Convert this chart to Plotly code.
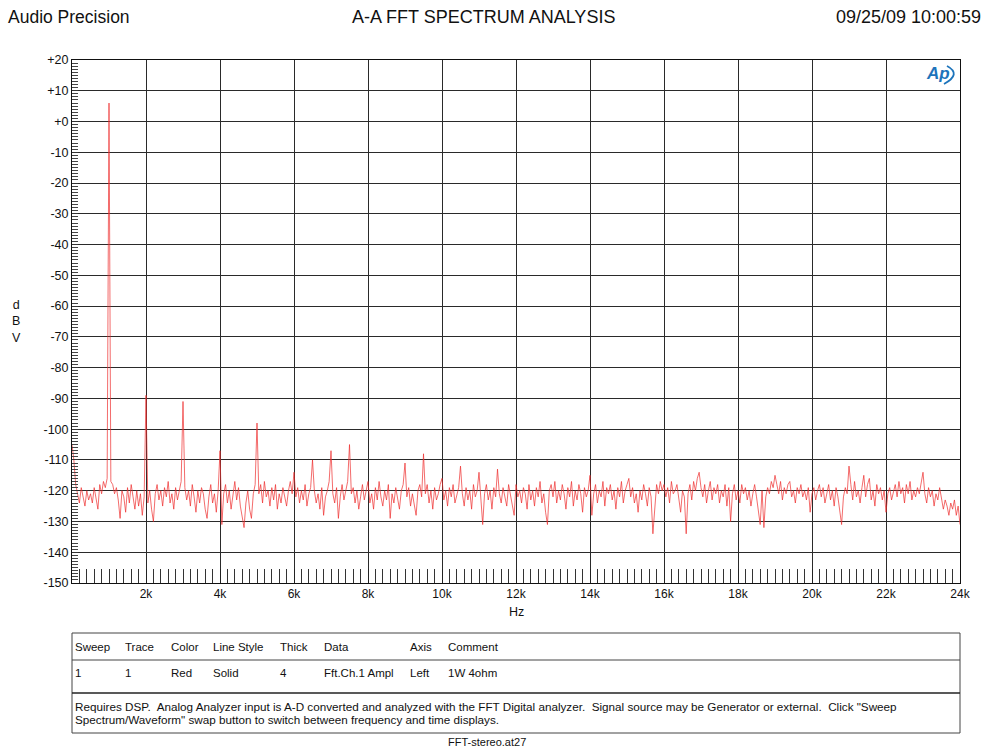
import plotly.graph_objects as go

# ---------------- data ----------------
BIN_HZ = 50  # FFT display bin spacing
level_dbv = [
    # 0 - 950 Hz
    -105, -110, -118, -121, -124, -119, -122, -125, -120, -123, -121, -124, -119, -122, -126, -118, -121, -117, -119, -116,
    # 1k
    6, -117, -118, -121, -119, -123, -129, -120, -122, -127, -119, -124, -118, -122, -126, -120, -125, -121, -128, -122,
    # 2k
    -89, -124, -120, -126, -130, -121, -118, -123, -120, -125, -119, -122, -117, -124, -121, -126, -119, -123, -120, -117,
    # 3k
    -91, -119, -123, -120, -125, -118, -122, -127, -120, -124, -119, -121, -126, -129, -122, -118, -124, -121, -127, -120,
    # 4k
    -107, -131, -121, -118, -124, -120, -126, -122, -117, -123, -119, -125, -128, -132, -124, -120, -126, -129, -121, -118,
    # 5k
    -98, -121, -118, -124, -117, -122, -120, -125, -119, -123, -118, -126, -121, -124, -119, -122, -125, -120, -117, -121,
    # 6k
    -114, -122, -119, -124, -120, -123, -118, -125, -121, -119, -110, -120, -124, -121, -126, -119, -128, -122, -120, -117,
    # 7k
    -107, -121, -124, -119, -129, -122, -118, -123, -120, -117, -105, -121, -119, -124, -120, -126, -122, -118, -123, -120,
    # 8k
    -117, -124, -121, -126, -119, -123, -117, -122, -125, -120, -123, -118, -129, -121, -124, -119, -122, -126, -120, -118,
    # 9k
    -111, -122, -119, -125, -121, -124, -128, -120, -118, -122, -108, -121, -118, -124, -120, -126, -119, -123, -121, -118,
    # 10k
    -116, -123, -120, -125, -119, -122, -118, -124, -121, -119, -112, -121, -125, -119, -123, -120, -126, -118, -122, -120,
    # 11k
    -114, -124, -131, -121, -118, -123, -120, -126, -119, -122, -113, -121, -124, -119, -122, -125, -118, -121, -124, -128,
    # 12k
    -118, -122, -120, -124, -119, -121, -126, -118, -123, -120, -125, -119, -122, -117, -124, -121, -127, -131, -120, -118,
    # 13k
    -122, -117, -124, -120, -123, -118, -121, -126, -119, -122, -117, -125, -120, -123, -118, -121, -127, -119, -122, -120,
    # 14k
    -115, -128, -121, -118, -124, -120, -122, -117, -125, -119, -121, -118, -123, -120, -126, -119, -122, -117, -124, -120,
    # 15k
    -118, -116, -122, -119, -124, -121, -127, -120, -123, -118, -121, -125, -119, -122, -134, -124, -118, -121, -117, -120,
    # 16k
    -118, -122, -119, -124, -117, -121, -120, -118, -123, -127, -120, -122, -134, -121, -118, -123, -117, -120, -116, -114,
    # 17k
    -119, -122, -118, -124, -120, -117, -123, -119, -121, -118, -124, -120, -122, -118, -125, -119, -130, -121, -118, -123,
    # 18k
    -120, -124, -118, -121, -119, -123, -120, -125, -121, -118, -122, -126, -131, -120, -132, -122, -119, -121, -117, -119,
    # 19k
    -115, -118, -121, -117, -123, -119, -121, -118, -117, -122, -120, -124, -119, -121, -118, -122, -120, -123, -119, -127,
    # 20k
    -121, -119, -123, -120, -118, -122, -119, -124, -121, -118, -123, -120, -125, -119, -122, -126, -131, -122, -119, -121,
    # 21k
    -112, -118, -123, -117, -122, -120, -124, -119, -115, -122, -118, -116, -123, -120, -125, -118, -121, -119, -123, -120,
    # 22k
    -127, -121, -119, -123, -120, -118, -122, -117, -121, -119, -124, -118, -121, -117, -123, -120, -122, -119, -121, -118,
    # 23k
    -114, -121, -124, -119, -122, -120, -125, -121, -123, -119, -122, -126, -123, -125, -128, -124, -126, -123, -128, -125,
    # 24k
    -131,
]
freq_hz = [i * BIN_HZ for i in range(len(level_dbv))]

x_tick_hz = [2000, 4000, 6000, 8000, 10000, 12000, 14000, 16000, 18000, 20000, 22000, 24000]
x_tick_text = ["2k", "4k", "6k", "8k", "10k", "12k", "14k", "16k", "18k", "20k", "22k", "24k"]
y_tick_db = [20, 10, 0, -10, -20, -30, -40, -50, -60, -70, -80, -90, -100, -110, -120, -130, -140, -150]
y_tick_text = ["+20", "+10", "+0", "-10", "-20", "-30", "-40", "-50", "-60", "-70", "-80", "-90",
               "-100", "-110", "-120", "-130", "-140", "-150"]

table_header = ["Sweep", "Trace", "Color", "Line Style", "Thick", "Data", "Axis", "Comment"]
table_row = ["1", "1", "Red", "Solid", "4", "Fft.Ch.1 Ampl", "Left", "1W 4ohm"]
note_lines = [
    "Requires DSP.  Analog Analyzer input is A-D converted and analyzed with the FFT Digital analyzer.  Signal source may be Generator or external.  Click \"Sweep",
    "Spectrum/Waveform\" swap button to switch between frequency and time displays.",
]

# ---------------- layout helpers ----------------
W, H = 982, 749
L, R, T, B = 72, 960, 60, 583
FONT = "Liberation Sans, Arial, Helvetica, sans-serif"


def px(xp):
    return (xp - L) / (R - L)


def py(yp):
    return (B - yp) / (B - T)


fig = go.Figure()
fig.add_trace(go.Scatter(
    x=freq_hz, y=level_dbv, mode="lines",
    line=dict(color="rgba(238,45,45,0.78)", width=0.9),
    hoverinfo="skip", showlegend=False,
))

grid_col = "#2a2a2a"
fig.update_layout(
    width=W, height=H,
    margin=dict(l=L, r=W - R, t=T, b=H - B),
    paper_bgcolor="white", plot_bgcolor="white",
    font=dict(family=FONT, color="#111", size=12),
    showlegend=False,
    xaxis=dict(
        range=[0, 24000], tickmode="array", tickvals=x_tick_hz, ticktext=x_tick_text,
        showgrid=True, gridcolor=grid_col, gridwidth=1,
        showline=True, linecolor="#111", linewidth=1, mirror=True,
        ticks="inside", ticklen=14, tickcolor="#222",
        tickfont=dict(size=12, family=FONT, color="#111"),
        zeroline=False, fixedrange=True,
        minor=dict(tickmode="linear", tick0=0, dtick=200, ticks="inside", ticklen=14,
                   tickcolor="#333", tickwidth=1, showgrid=False),
    ),
    yaxis=dict(
        range=[-150, 20], tickmode="array", tickvals=y_tick_db, ticktext=y_tick_text,
        showgrid=True, gridcolor=grid_col, gridwidth=1,
        showline=True, linecolor="#111", linewidth=1, mirror=True,
        ticks="inside", ticklen=6, tickcolor="#333",
        tickfont=dict(size=12.5, family=FONT, color="#111"),
        zeroline=False, fixedrange=True,
        minor=dict(tickmode="linear", tick0=0, dtick=1, ticks="inside", ticklen=6,
                   tickcolor="#444", tickwidth=1, showgrid=False),
    ),
)

ann = []


def add_text(text, xp, yp, size=11, xanchor="left", yanchor="middle", color="#111"):
    ann.append(dict(text=text, x=px(xp), y=py(yp), xref="paper", yref="paper",
                    xanchor=xanchor, yanchor=yanchor, showarrow=False,
                    font=dict(family=FONT, size=size, color=color)))


# header
add_text("Audio Precision", 6, 17, size=17.5)
add_text("A-A FFT SPECTRUM ANALYSIS", 483, 17, size=18, xanchor="center")
add_text("09/25/09 10:00:59", 834, 17, size=18)
# axis labels
ann.append(dict(text="d<br>B<br>V", x=px(16), y=py(321), xref="paper", yref="paper",
                xanchor="center", yanchor="middle", showarrow=False,
                font=dict(family=FONT, size=12.5, color="#111")))
add_text("Hz", 516, 612, size=12.5, xanchor="center")

# AP logo
ann.append(dict(text="<b><i>Ap</i></b>", x=px(938), y=py(74), xref="paper", yref="paper",
                xanchor="center", yanchor="middle", showarrow=False,
                font=dict(family=FONT, size=17, color="#1d74bb")))

# table
col_x = [73, 123, 169, 211, 278, 322, 408, 446]
for cx, h in zip(col_x, table_header):
    add_text(h, cx, 647, size=11.5)
for cx, v in zip(col_x, table_row):
    add_text(v, cx, 673, size=11.5)
add_text(note_lines[0], 73, 706, size=11.7)
add_text(note_lines[1], 73, 719, size=11.7)
add_text("FFT-stereo.at27", 487, 742, size=11, xanchor="center")

fig.update_layout(annotations=ann)

shapes = [
    dict(type="rect", xref="paper", yref="paper", x0=px(72), x1=px(960), y0=py(733), y1=py(633),
         line=dict(color="#444", width=1), layer="above"),
    dict(type="line", xref="paper", yref="paper", x0=px(72), x1=px(960), y0=py(660), y1=py(660),
         line=dict(color="#444", width=1)),
    dict(type="line", xref="paper", yref="paper", x0=px(72), x1=px(960), y0=py(693), y1=py(693),
         line=dict(color="#222", width=1.6)),
    dict(type="path", xref="paper", yref="paper",
         path=f"M {px(947)},{py(66)} Q {px(962)},{py(74)} {px(944)},{py(84)}",
         line=dict(color="#1d74bb", width=1.8)),
]
fig.update_layout(shapes=shapes)

fig.write_html("out.html")
